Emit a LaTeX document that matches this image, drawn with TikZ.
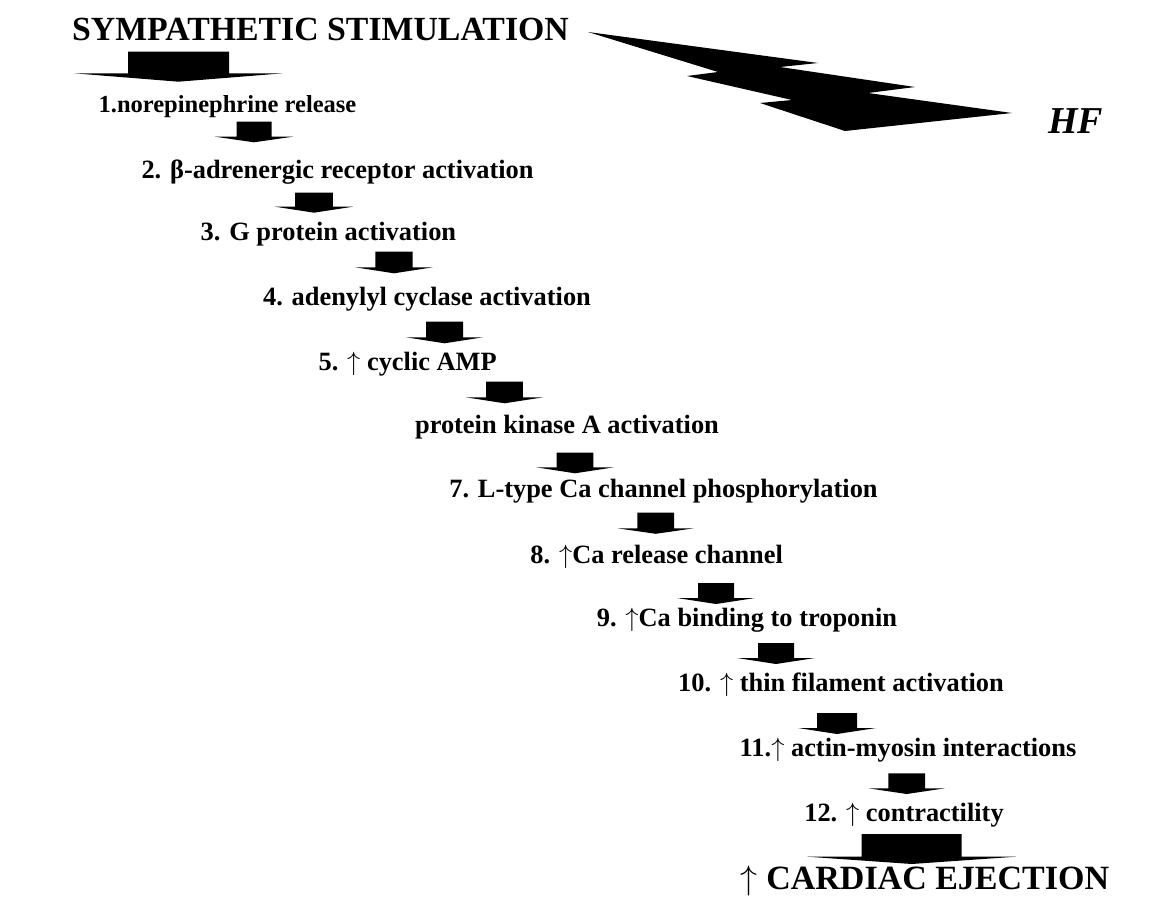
\documentclass[tikz,border=0pt]{standalone}
\usepackage{fontspec}
\usepackage{fix-cm}
\setmainfont{Liberation Serif}
\newcommand\upar{\ensuremath{\uparrow}}
\begin{document}
\begin{tikzpicture}[x=1pt,y=-1pt,
  steplabel/.style={inner sep=0pt,anchor=base,font=\bfseries\fontsize{26.4}{30}\selectfont},
  firstlabel/.style={steplabel,font=\bfseries\fontsize{24.5}{28}\selectfont},
  titlelabel/.style={inner sep=0pt,anchor=base,font=\bfseries\fontsize{33.8}{38}\selectfont},
  hflabel/.style={inner sep=0pt,anchor=base west,font=\bfseries\itshape\fontsize{38}{42}\selectfont}]
\useasboundingbox (0,0) rectangle (1165,899);
% block arrow: centre x, top y, rect width, rect height, head width, head height
\newcommand\blockarr[6]{%
  \fill[black] ({#1-#3/2},{#2}) -- ({#1+#3/2},{#2}) -- ({#1+#3/2},{#2+#4})
    -- ({#1+#5/2},{#2+#4}) -- ({#1},{#2+#4+#6}) -- ({#1-#5/2},{#2+#4})
    -- ({#1-#3/2},{#2+#4}) -- cycle;}
% texts
\node[titlelabel] (t0) at (320.5,41) {SYMPATHETIC STIMULATION};
\node[hflabel] (hf) at (1048,133.3) {HF};
\node[firstlabel] (t1) at (227.5,112.7) {1.norepinephrine release};
\node[steplabel] (t2) at (337.5,178.3) {2. β-adrenergic receptor activation};
\node[steplabel] (t3) at (328.4,240.7) {3. G protein activation};
\node[steplabel] (t4) at (427,305) {4. adenylyl cyclase activation};
\node[steplabel] (t5) at (407.7,370.7) {5. \upar{} cyclic AMP};
\node[steplabel] (t6) at (567,433.3) {protein kinase A activation};
\node[steplabel] (t7) at (663.5,497.5) {7. L-type Ca channel phosphorylation};
\node[steplabel] (t8) at (656.7,563.3) {8. \upar Ca release channel};
\node[steplabel] (t9) at (747,626.5) {9. \upar Ca binding to troponin};
\node[steplabel] (t10) at (841,691) {10. \upar{} thin filament activation};
\node[steplabel] (t11) at (908,756) {11.\upar{} actin-myosin interactions};
\node[steplabel] (t12) at (904,821.7) {12. \upar{} contractility};
\node[titlelabel,font=\bfseries\fontsize{34}{38}\selectfont] (ce) at (925,889) {\smash{\upar}{} CARDIAC EJECTION};
% lightning bolt
\fill[black] (588,32) -- (818,63) -- (780,67) -- (915,87) -- (868,93) -- (1012,113)
  -- (845,131) -- (760,103) -- (792,100) -- (687,76) -- (718,72) -- cycle;
% block arrows
\blockarr{178.5}{51.7}{101}{21.6}{209}{8.4}
\blockarr{254}{121.7}{35}{15}{78}{5.6}
\blockarr{314}{192.7}{37.7}{14}{78}{6}
\blockarr{394}{251.7}{37.3}{15.6}{78}{6}
\blockarr{444.5}{321.7}{37}{15.6}{77}{6}
\blockarr{504.5}{381.7}{36.7}{15.6}{77.6}{6}
\blockarr{575}{452.7}{36.7}{14.6}{78}{6}
\blockarr{655.7}{512.7}{36.6}{15.6}{76.7}{5.5}
\blockarr{716}{583}{36}{15}{78}{6}
\blockarr{776}{643}{36}{15}{78}{6}
\blockarr{837}{713}{40}{15}{78}{6}
\blockarr{906.7}{773.3}{36.7}{15}{76.7}{5.7}
\blockarr{911.7}{834}{100}{22.7}{208.7}{7.3}
\end{tikzpicture}
\end{document}
